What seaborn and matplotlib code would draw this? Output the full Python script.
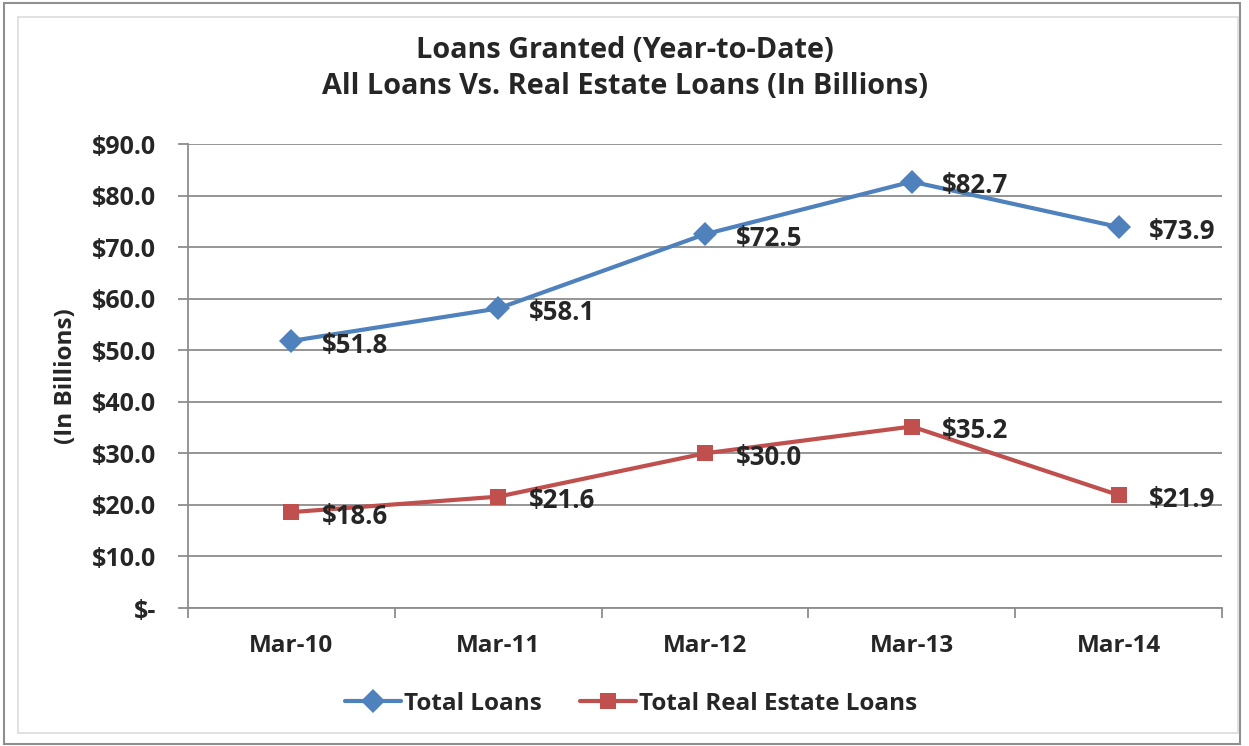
import matplotlib.pyplot as plt
import matplotlib.ticker as mticker
from matplotlib.patches import Rectangle
import seaborn as sns
import pandas as pd

# ---------------------------------------------------------------------------
periods = ["Mar-10", "Mar-11", "Mar-12", "Mar-13", "Mar-14"]
total_loans = [51.8, 58.1, 72.5, 82.7, 73.9]
real_estate_loans = [18.6, 21.6, 30.0, 35.2, 21.9]
series_names = ["Total Loans", "Total Real Estate Loans"]
# ---------------------------------------------------------------------------

df = pd.DataFrame({
    "period": periods * 2,
    "x": list(range(len(periods))) * 2,
    "value": total_loans + real_estate_loans,
    "series": [series_names[0]] * len(periods) + [series_names[1]] * len(periods),
})

sns.set_style("white")
plt.rcParams['font.family'] = ['Open Sans', 'DejaVu Sans']
plt.rcParams['font.weight'] = 'bold'

fig = plt.figure(figsize=(12.49, 7.46), dpi=100)
ax = fig.add_axes([188 / 1249, 1 - 608 / 746, (1222 - 188) / 1249, (608 - 144) / 746])

palette = {series_names[0]: "#4F81BD", series_names[1]: "#C0504D"}
sns.lineplot(data=df, x="x", y="value", hue="series", style="series",
             markers={series_names[0]: "D", series_names[1]: "s"},
             dashes=False, palette=palette, linewidth=3.0, markersize=12,
             markeredgewidth=0, ax=ax)

# etiquetas de datos
for _, row in df.iterrows():
    ax.annotate(f"${row['value']:.1f}", (row['x'], row['value']),
                xytext=(22, -3), textcoords="offset points",
                ha="left", va="center", fontsize=18.5, fontweight="bold")

ax.set_xlim(-0.5, len(periods) - 0.5)
ax.set_ylim(0, 90)
ax.yaxis.set_major_locator(mticker.MultipleLocator(10))
ax.yaxis.set_major_formatter(mticker.FuncFormatter(
    lambda v, p: "$-" if v == 0 else f"${v:.1f}"))
ax.set_xticks(range(len(periods)))
ax.set_xticklabels(periods)
ax.xaxis.set_minor_locator(mticker.FixedLocator([i - 0.5 for i in range(len(periods) + 1)]))

ax.grid(axis="y", color="#8c8c8c", linewidth=1.3)
ax.set_axisbelow(True)
for s in ["top", "right"]:
    ax.spines[s].set_visible(False)
for s in ["left", "bottom"]:
    ax.spines[s].set_color("#8c8c8c")
    ax.spines[s].set_linewidth(1.3)

ax.tick_params(axis="y", which="major", length=7, width=1.3, color="#8c8c8c",
               labelsize=18, pad=16, left=True)
ax.tick_params(axis="x", which="major", length=0, labelsize=17.5, pad=19)
ax.tick_params(axis="x", which="minor", length=7, width=1.3, color="#8c8c8c", bottom=True)
for lbl in ax.get_xticklabels() + ax.get_yticklabels():
    lbl.set_fontweight("bold")

ax.set_xlabel("")
ax.set_ylabel("(In Billions)", fontsize=17.5, fontweight="bold", labelpad=10)

fig.suptitle("Loans Granted (Year-to-Date)\nAll Loans Vs. Real Estate Loans (In Billions)",
             x=0.5, y=1 - 68.5 / 746, va="center", fontsize=20.8, fontweight="bold",
             linespacing=1.3)

ax.legend(loc="center", bbox_to_anchor=((631 - 188) / 1034, (608 - 704) / 464), ncol=2,
          frameon=False, prop={"size": 17.5, "weight": "bold"}, handlelength=2.3,
          handletextpad=0.1, columnspacing=1.6)

# bordes del grafico
fig.patches.append(Rectangle((4 / 1249, 2 / 746), 1236 / 1249, 741 / 746,
                             transform=fig.transFigure, fill=False,
                             edgecolor="#8f8f8f", linewidth=1.5))
fig.patches.append(Rectangle((18 / 1249, 13 / 746), 1220 / 1249, 716 / 746,
                             transform=fig.transFigure, fill=False,
                             edgecolor="#dcdcdc", linewidth=1.2))

plt.savefig("out.png", dpi=100)
